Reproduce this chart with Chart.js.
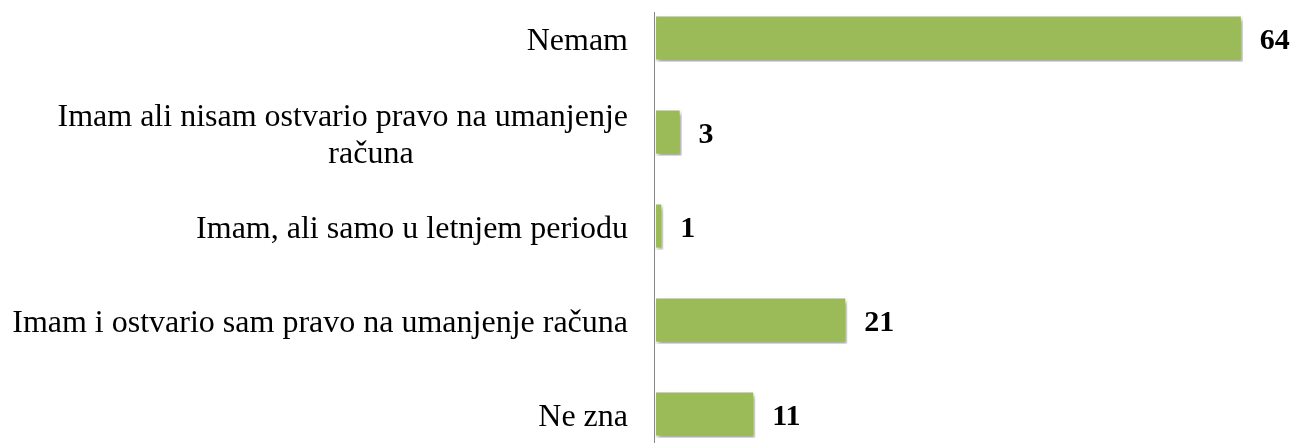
<!DOCTYPE html>
<html>
<head>
<meta charset="utf-8">
<script src="https://cdn.jsdelivr.net/npm/chart.js@4/dist/chart.umd.min.js"></script>
<style>
    html, body { margin: 0; padding: 0; background: #ffffff; overflow: hidden; }
    #wrap { position: absolute; left: 0; top: -9px; width: 1311px; height: 470px; }
</style>
</head>
<body>
<div id="wrap"><canvas id="myChart"></canvas></div>
<script>
    const categories = [
        'Nemam',
        ['Imam ali nisam ostvario pravo na umanjenje', 'računa'],
        'Imam, ali samo u letnjem periodu',
        'Imam i ostvario sam pravo na umanjenje računa',
        'Ne zna'
    ];
    const values = [64, 3, 1, 21, 11];

    const AXIS_X = 654; // left edge of plot area

    // value labels next to bars (no datalabels plugin offline)
    const valueLabels = {
        id: 'valueLabels',
        beforeDatasetsDraw(chart) {
            const ctx = chart.ctx;
            ctx.save();
            ctx.shadowColor = 'rgba(0, 0, 0, 0.35)';
            ctx.shadowBlur = 4;
            ctx.shadowOffsetX = 2;
            ctx.shadowOffsetY = 3;
        },
        afterDatasetsDraw(chart) {
            const ctx = chart.ctx;
            ctx.restore();
            ctx.save();
            ctx.font = 'bold 30px "Liberation Serif"';
            ctx.fillStyle = '#000000';
            ctx.textBaseline = 'middle';
            ctx.textAlign = 'left';
            chart.getDatasetMeta(0).data.forEach((bar, i) => {
                ctx.fillText(values[i], bar.x + 17, bar.y + 3);
            });
            // vertical axis line
            ctx.strokeStyle = '#868686';
            ctx.lineWidth = 1;
            ctx.beginPath();
            ctx.moveTo(chart.chartArea.left + 0.5, 21);
            ctx.lineTo(chart.chartArea.left + 0.5, chart.chartArea.bottom);
            ctx.stroke();
            ctx.restore();
        }
    };

    const config = {
        type: 'bar',
        data: {
            labels: categories,
            datasets: [{
                data: values,
                backgroundColor: '#9BBB59',
                borderColor: '#ffffff',
                borderWidth: 2,
                borderSkipped: false,
                categoryPercentage: 1,
                barPercentage: 0.5
            }]
        },
        options: {
            indexAxis: 'y',
            responsive: true,
            maintainAspectRatio: false,
            animation: false,
            layout: { padding: { top: 0, bottom: 0, left: 0, right: 13 } },
            plugins: {
                legend: { display: false },
                tooltip: { enabled: false }
            },
            scales: {
                x: {
                    min: 0,
                    max: 70,
                    display: false
                },
                y: {
                    grid: { display: false, drawTicks: false },
                    border: { display: false },
                    afterFit(scale) {
                        scale.width = AXIS_X;
                        scale.paddingTop = 0;
                        scale.paddingBottom = 0;
                    },
                    ticks: {
                        color: '#000000',
                        padding: 26,
                        labelOffset: 4,
                        font: { family: '"Liberation Serif"', size: 32, lineHeight: 1.16 },
                        callback: function (value) {
                            const lbl = categories[value];
                            if (Array.isArray(lbl)) {
                                // second line sits roughly centred under the first
                                return [lbl[0], lbl[1] + '\u2003'.repeat(6) + '\u2002\u2009'];
                            }
                            return lbl;
                        }
                    }
                }
            }
        },
        plugins: [valueLabels]
    };

    const myChart = new Chart(document.getElementById('myChart'), config);
</script>
</body>
</html>
